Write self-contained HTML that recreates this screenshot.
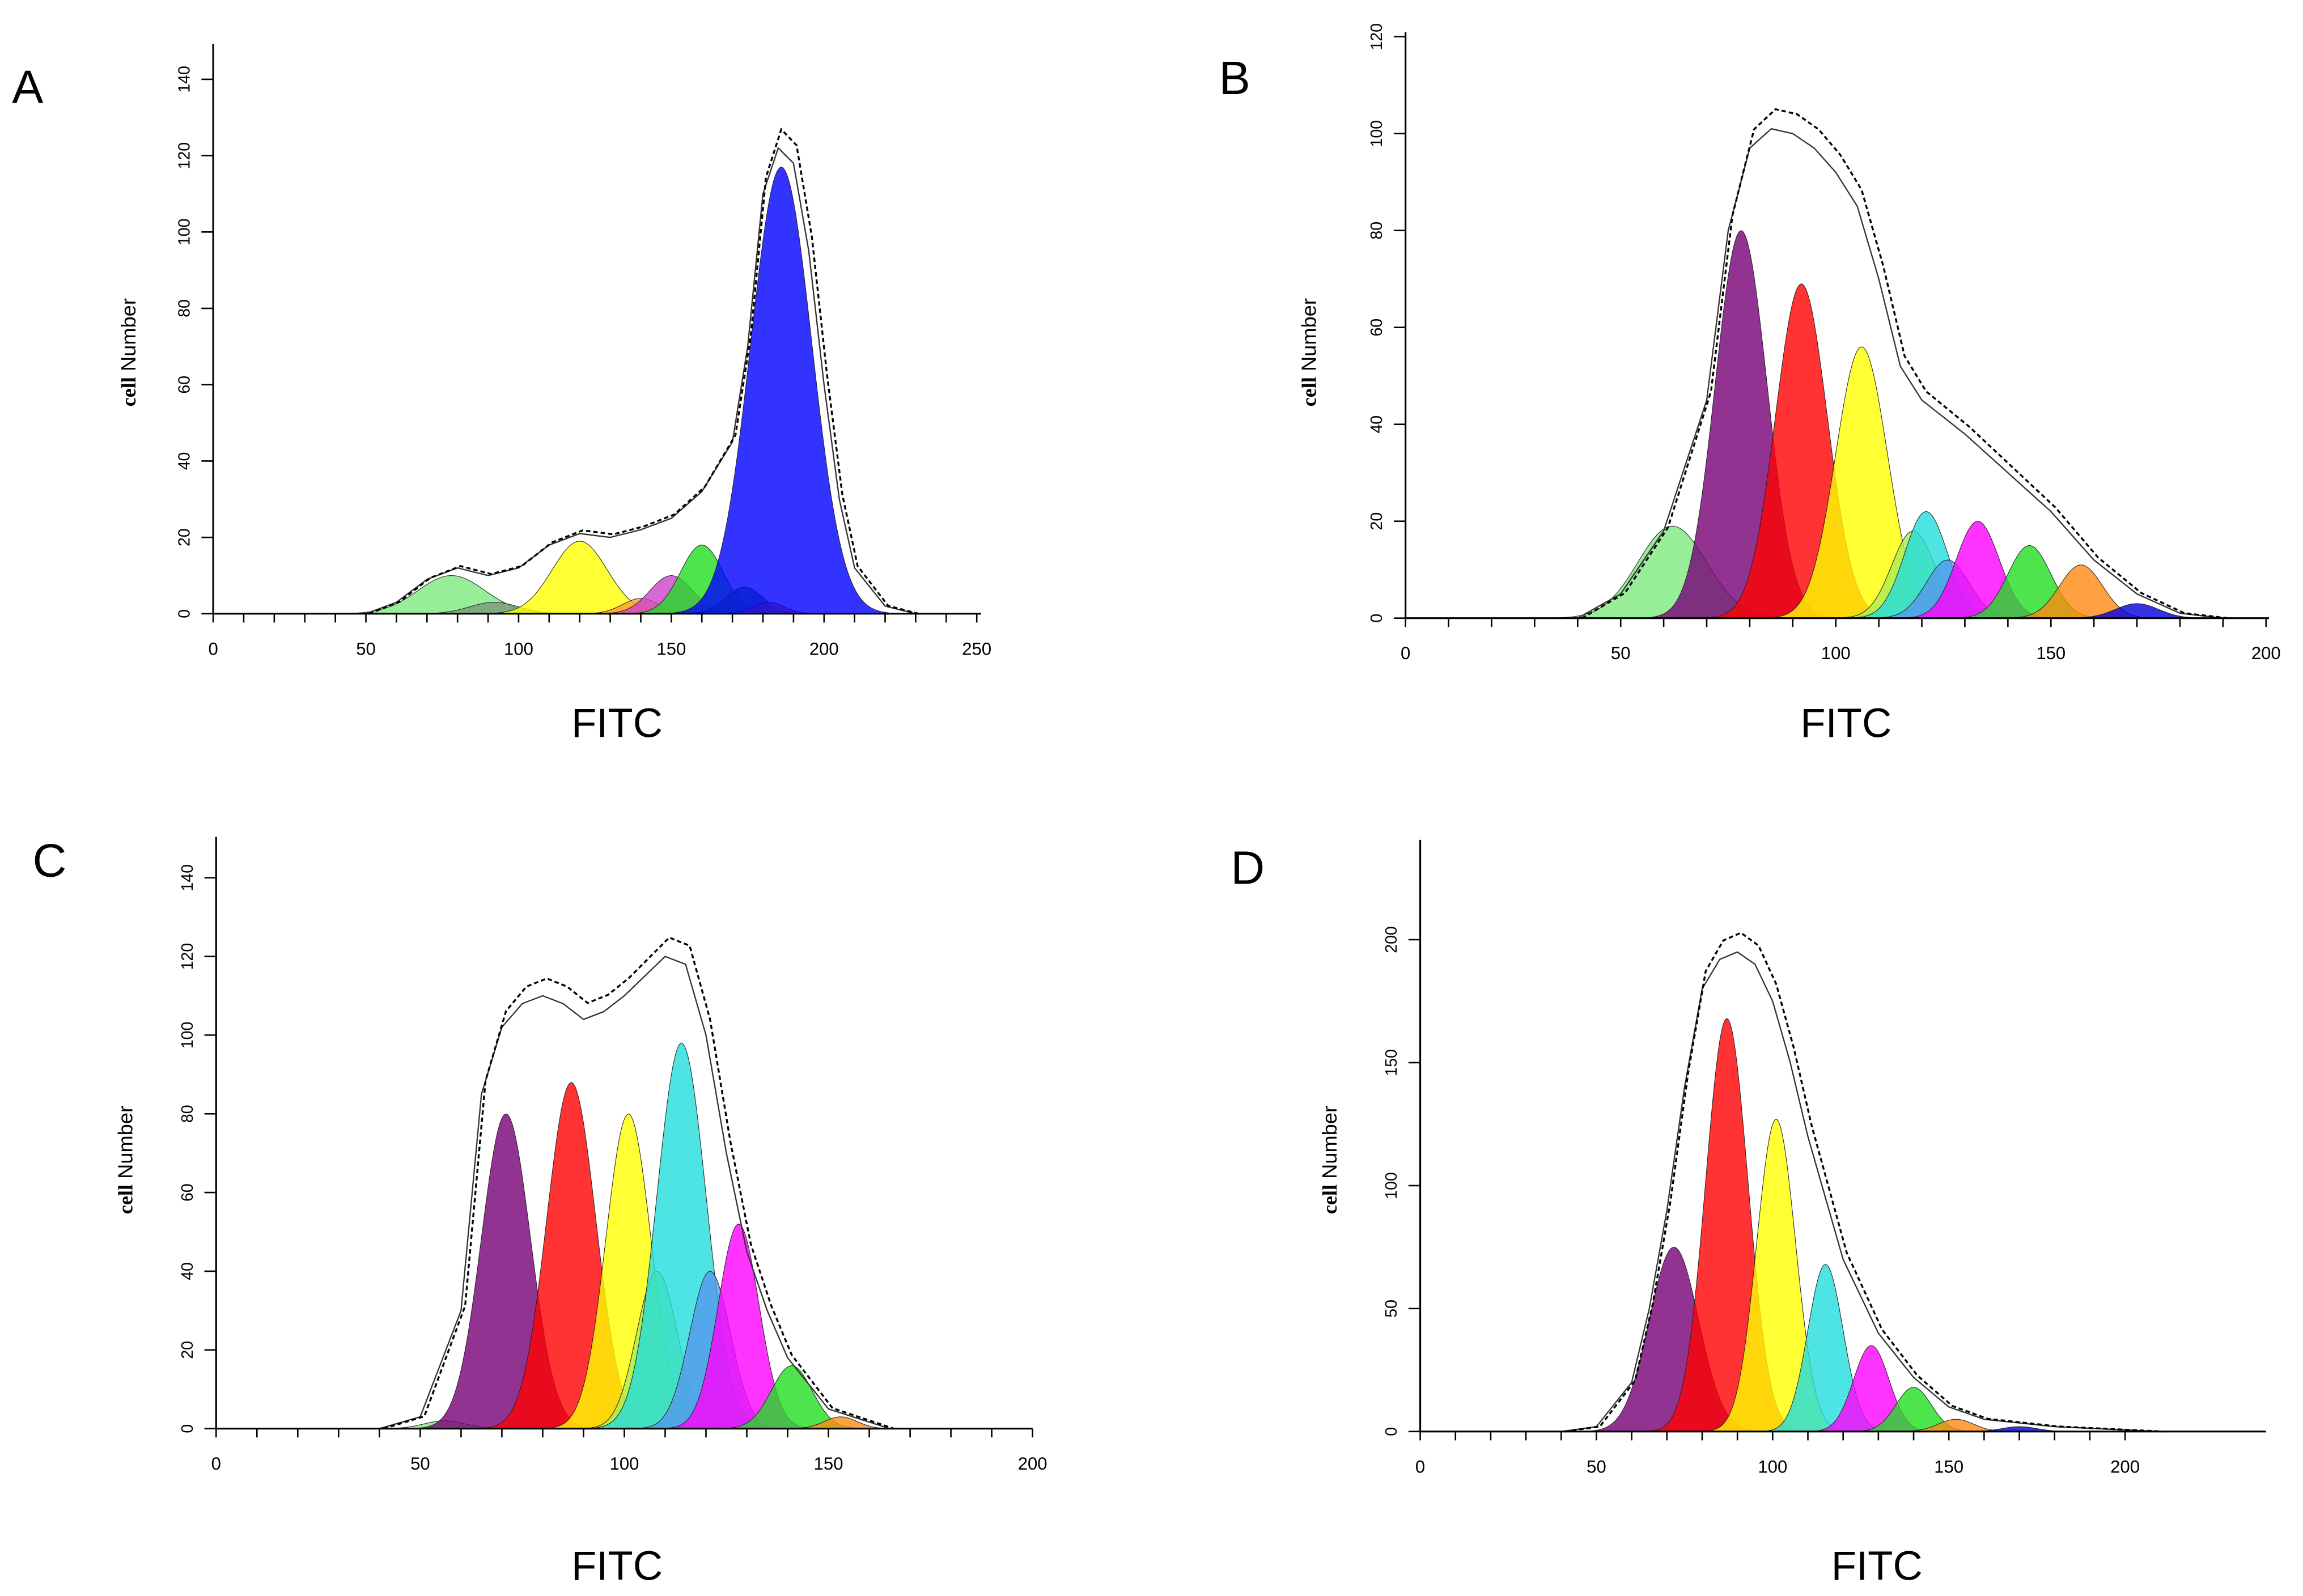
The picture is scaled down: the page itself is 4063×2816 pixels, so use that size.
<!DOCTYPE html>
<html><head><meta charset="utf-8"><style>
html,body{margin:0;padding:0;background:#fff;}
svg{display:block;}
</style></head><body>
<svg id="fig" width="4063" height="2816" viewBox="0 0 1568 1087" xmlns="http://www.w3.org/2000/svg" font-family="Liberation Sans, sans-serif">
<rect width="1568" height="1087" fill="#fff"/>
</svg>
<script>
// Panel A components
const aCenters=[78,92,120,140,150,160,174,182,186];
const aHeights=[10,3,19,4,10,18,7,3,117];
const aSigmas=[11,8,9,6,7,7,6,5,10];
const aColors=["#7ee87e","#7a9a7a","#ffff00","#ff9933","#cc44cc","#22dd22","#229922","#ff6600","#0000ff"];
const aEnvX=[50,60,70,80,90,100,110,120,130,140,150,160,170,175,180,185,190,195,200,205,210,220,230];
const aEnvY=[0,3,9,12,10,12,18,21,20,22,25,32,45,70,110,122,118,95,60,30,12,2,0];
const aYTicks=[0,20,40,60,80,100,120,140];
const aXTicks=[0,50,100,150,200,250];
// Panel B
const bCenters=[62,78,92,106,118,121,126,133,145,157,170];
const bHeights=[19,80,69,56,18,22,12,20,15,11,3];
const bSigmas=[8,6,6,6,5,5,5,5,5,5,5];
const bColors=["#7ee87e","#770077","#ff0000","#ffff00","#aaee55","#22dddd","#5599ee","#ff00ff","#22dd22","#ff8811","#0000dd"];
const bEnvX=[40,50,60,70,75,80,85,90,95,100,105,110,115,120,130,140,150,160,170,180,190];
const bEnvY=[0,5,18,45,80,97,101,100,97,92,85,70,52,45,38,30,22,12,5,1,0];
const bYTicks=[0,20,40,60,80,100,120];
const bXTicks=[0,50,100,150,200];
// Panel C
const cCenters=[56,71,87,101,108,114,121,128,141,153];
const cHeights=[2,80,88,80,40,98,40,52,16,3];
const cSigmas=[5,6,6,5.5,5,6,5,5,5,4];
const cColors=["#7ee87e","#770077","#ff0000","#ffff00","#aaee55","#22dddd","#5599ee","#ff00ff","#22dd22","#ff8811"];
const cEnvX=[40,50,60,65,70,75,80,85,90,95,100,105,110,115,120,125,130,135,140,150,165];
const cEnvY=[0,3,30,85,102,108,110,108,104,106,110,115,120,118,100,70,45,30,18,5,0];
const cYTicks=[0,20,40,60,80,100,120,140];
const cXTicks=[0,50,100,150,200];
// Panel D
const dCenters=[72,87,101,115,128,140,152,170];
const dHeights=[75,168,127,68,35,18,5,2];
const dSigmas=[7,6,5.5,5,5,5,5,5];
const dColors=["#770077","#ff0000","#ffff00","#22dddd","#ff00ff","#22dd22","#ff8811","#0000dd"];
const dEnvX=[40,50,60,65,70,75,80,85,90,95,100,105,110,115,120,130,140,150,160,180,210];
const dEnvY=[0,2,20,50,90,140,180,192,195,190,175,150,120,95,70,40,22,10,5,2,0];
const dYTicks=[0,50,100,150,200];
const dXTicks=[0,50,100,150,200];

const NS="http://www.w3.org/2000/svg";
const svg=document.getElementById('fig');
function el(tag,attrs,parent){const e=document.createElementNS(NS,tag);for(const k in attrs)e.setAttribute(k,attrs[k]);(parent||svg).appendChild(e);return e;}

function panel(p){
  const g=el('g',{});
  
  
  const sx=v=>p.x0+(v-p.xmin)*p.xs;
  const sy=v=>p.y0-v*p.ys;
  const gauss=(x,c,h,s)=>h*Math.exp(-0.5*((x-c)/s)**2);
  for(let i=0;i<p.centers.length;i++){
    const c=p.centers[i],h=p.heights[i],s=p.sigmas[i];
    let d='M'+sx(c-3.5*s)+','+sy(0);
    for(let x=c-3.5*s;x<=c+3.5*s;x+=0.5)d+=' L'+sx(x).toFixed(2)+','+sy(gauss(x,c,h,s)).toFixed(2);
    d+=' L'+sx(c+3.5*s)+','+sy(0)+' Z';
    const path=el('path',{d:d,fill:p.colors[i],'fill-opacity':0.8,stroke:'#222','stroke-width':0.4},g);
    
    
  }
  let d='',d2='';
  for(let i=0;i<p.envX.length;i++){
    d+=(i?' L':'M')+sx(p.envX[i]).toFixed(2)+','+sy(p.envY[i]).toFixed(2);
    d2+=(i?' L':'M')+sx(p.envX[i]+1).toFixed(2)+','+sy(p.envY[i]*1.04).toFixed(2);
  }
  const env=el('path',{d:d,fill:'none',stroke:'#333','stroke-width':0.9,'stroke-linejoin':'round'},g);
  
  
  const hist=el('path',{d:d2,fill:'none',stroke:'#000','stroke-width':1.3,'stroke-dasharray':'3,2'},g);
  
  
  const ya=el('line',{x1:p.x0,y1:p.y0,x2:p.x0,y2:p.ytop,stroke:'#000','stroke-width':1.2},g);
  
  
  const xa=el('line',{x1:p.x0,y1:p.y0,x2:p.xend,y2:p.y0,stroke:'#000','stroke-width':1.2},g);
  
  
  p.yticks.forEach(t=>{
    el('line',{x1:p.x0-8,y1:sy(t),x2:p.x0,y2:sy(t),stroke:'#000'},g);
    const tx=el('text',{x:p.x0-16,y:sy(t),'font-size':11,'text-anchor':'middle',transform:`rotate(-90 ${p.x0-16} ${sy(t)})`},g);
    tx.textContent=t;
    
    
  });
  for(let t=p.xmin;t<=p.xticks[p.xticks.length-1]+0.1;t+=p.minor){
    if(sx(t)>p.xend)break;
    el('line',{x1:sx(t),y1:p.y0,x2:sx(t),y2:p.y0+6,stroke:'#000'},g);
  }
  p.xticks.forEach(t=>{
    const tx=el('text',{x:sx(t),y:p.y0+28,'font-size':12,'text-anchor':'middle'},g);
    tx.textContent=t;
    
    
  });
  const yl=el('text',{x:p.ylx,y:p.yly,'font-size':14,'text-anchor':'middle',transform:`rotate(-90 ${p.ylx} ${p.yly})`},g);
  yl.innerHTML='<tspan font-weight="bold" font-family="Liberation Serif, serif">cell</tspan> Number';
  
  
  const xl=el('text',{x:p.xlx,y:p.xly,'font-size':28,'text-anchor':'middle'},g);
  xl.textContent='FITC';
  
  
  const lt=el('text',{x:p.lx,y:p.ly,'font-size':32},g);
  lt.textContent=p.id;
  
  
}

panel({id:'A',centers:aCenters,heights:aHeights,sigmas:aSigmas,colors:aColors,envX:aEnvX,envY:aEnvY,yticks:aYTicks,xticks:aXTicks,
  x0:145,y0:418,xmin:0,xs:2.08,ys:2.6,ytop:30,xend:668,minor:10,
  ylx:92,yly:240,xlx:420,xly:502,lx:8,ly:70});
panel({id:'B',centers:bCenters,heights:bHeights,sigmas:bSigmas,colors:bColors,envX:bEnvX,envY:bEnvY,yticks:bYTicks,xticks:bXTicks,
  x0:957,y0:421,xmin:0,xs:2.93,ys:3.3,ytop:22,xend:1545,minor:10,
  ylx:896,yly:240,xlx:1257,xly:502,lx:830,ly:64});
panel({id:'C',centers:cCenters,heights:cHeights,sigmas:cSigmas,colors:cColors,envX:cEnvX,envY:cEnvY,yticks:cYTicks,xticks:cXTicks,
  x0:147,y0:973,xmin:0,xs:2.78,ys:2.68,ytop:570,xend:703,minor:10,
  ylx:90,yly:790,xlx:420,xly:1076,lx:22,ly:597});
panel({id:'D',centers:dCenters,heights:dHeights,sigmas:dSigmas,colors:dColors,envX:dEnvX,envY:dEnvY,yticks:dYTicks,xticks:dXTicks,
  x0:967,y0:975,xmin:0,xs:2.4,ys:1.675,ytop:572,xend:1543,minor:10,
  ylx:910,yly:790,xlx:1278,xly:1076,lx:838,ly:602});
</script>
</body></html>
